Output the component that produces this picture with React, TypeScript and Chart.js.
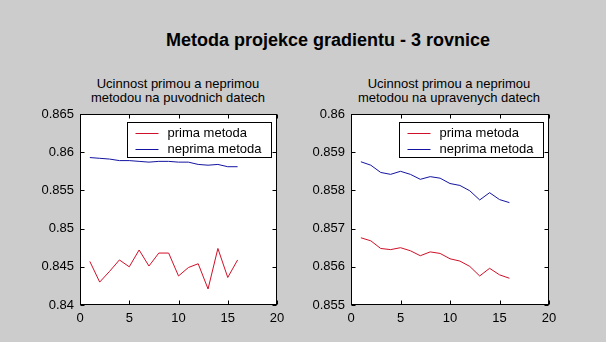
import React, { useEffect, useRef } from "react";
import { Chart, registerables } from "chart.js";

Chart.register(...registerables);

// ---- data ----
const xValues = [1, 2, 3, 4, 5, 6, 7, 8, 9, 10, 11, 12, 13, 14, 15, 16];
const seriesLabels = ["prima metoda", "neprima metoda"];

const leftPrima = [0.8457, 0.843, 0.8444, 0.8459, 0.845, 0.8472, 0.8451, 0.8468, 0.8468, 0.8438, 0.8449, 0.8454, 0.8421, 0.8474, 0.8436, 0.8459];
const leftNeprima = [0.8593, 0.8592, 0.8591, 0.8589, 0.8589, 0.8588, 0.8587, 0.8588, 0.8588, 0.8587, 0.8587, 0.8584, 0.8583, 0.8584, 0.8581, 0.8581];

const rightPrima = [0.85676, 0.85668, 0.85648, 0.85645, 0.8565, 0.85642, 0.85629, 0.85639, 0.85635, 0.85621, 0.85615, 0.85601, 0.85576, 0.85596, 0.85579, 0.8557];
const rightNeprima = [0.85875, 0.85866, 0.85847, 0.85842, 0.8585, 0.85842, 0.85829, 0.85836, 0.85832, 0.85818, 0.85813, 0.85799, 0.85775, 0.85794, 0.85776, 0.85768];

const xTickValues = [0, 5, 10, 15, 20];
const leftYTickValues = [0.84, 0.845, 0.85, 0.855, 0.86, 0.865];
const leftYTickLabels = ["0.84", "0.845", "0.85", "0.855", "0.86", "0.865"];
const rightYTickValues = [0.855, 0.856, 0.857, 0.858, 0.859, 0.86];
const rightYTickLabels = ["0.855", "0.856", "0.857", "0.858", "0.859", "0.86"];

const mainTitle = "Metoda projekce gradientu - 3 rovnice";
const leftTitle = ["Ucinnost primou a neprimou", "metodou na puvodnich datech"];
const rightTitle = ["Ucinnost primou a neprimou", "metodou na upravenych datech"];

const FONT = '"Liberation Sans", Arial, Helvetica, sans-serif';
const RED = "#d01028";
const BLUE = "#1414a0";
const seriesColors = [RED, BLUE];

const framePlugin = {
  id: "matlabFrame",
  beforeDraw(chart: any) {
    const { ctx, chartArea } = chart;
    const { left, top, right, bottom } = chartArea;
    ctx.save();
    ctx.fillStyle = "#ffffff";
    ctx.fillRect(left, top, right - left, bottom - top);
    ctx.restore();
  },
  afterDatasetsDraw(chart: any) {
    const { ctx, chartArea } = chart;
    const L = Math.round(chartArea.left) + 0.5;
    const T = Math.round(chartArea.top) + 0.5;
    const R = Math.round(chartArea.right) - 0.5;
    const B = Math.round(chartArea.bottom) - 0.5;
    ctx.save();
    ctx.strokeStyle = "#000";
    ctx.lineWidth = 1;
    ctx.strokeRect(L, T, R - L, B - T);
    const tl = 4;
    ctx.beginPath();
    chart.scales.y.ticks.forEach((t: any) => {
      const y = Math.round(chart.scales.y.getPixelForValue(t.value)) + 0.5;
      ctx.moveTo(L, y);
      ctx.lineTo(L + tl, y);
      ctx.moveTo(R, y);
      ctx.lineTo(R - tl, y);
    });
    chart.scales.x.ticks.forEach((t: any) => {
      const x = Math.round(chart.scales.x.getPixelForValue(t.value)) + 0.5;
      ctx.moveTo(x, B);
      ctx.lineTo(x, B - tl);
      ctx.moveTo(x, T);
      ctx.lineTo(x, T + tl);
    });
    ctx.stroke();

    // legend
    ctx.font = "13px " + FONT;
    const labels = chart.data.datasets.map((d: any) => d.label);
    const maxW = Math.max(...labels.map((l: string) => ctx.measureText(l).width));
    const w = Math.round(40 + maxW + 10);
    const h = 35;
    const bx = Math.round(R - 6 - w) + 0.5;
    const by = Math.round(T + 7) + 0.5;
    ctx.fillStyle = "#fff";
    ctx.fillRect(bx, by, w, h);
    ctx.strokeStyle = "#000";
    ctx.strokeRect(bx, by, w, h);
    labels.forEach((label: string, i: number) => {
      const yy = Math.round(by + 10.5 + i * 16) + 0.5;
      ctx.beginPath();
      ctx.strokeStyle = seriesColors[i];
      ctx.lineWidth = 1;
      ctx.moveTo(bx + 8, yy);
      ctx.lineTo(bx + 31, yy);
      ctx.stroke();
      ctx.fillStyle = "#000";
      ctx.textBaseline = "middle";
      ctx.textAlign = "left";
      ctx.fillText(label, bx + 40, yy);
    });
    ctx.restore();
  },
};

function makeConfig(
  prima: number[],
  neprima: number[],
  yTicks: number[],
  yLabels: string[],
  yAxisWidth: number,
  padRight: number
): any {
  return {
    type: "line",
    data: {
      datasets: [
        {
          label: seriesLabels[0],
          data: xValues.map((x, i) => ({ x, y: prima[i] })),
          borderColor: seriesColors[0],
          borderWidth: 1,
          pointRadius: 0,
          tension: 0,
        },
        {
          label: seriesLabels[1],
          data: xValues.map((x, i) => ({ x, y: neprima[i] })),
          borderColor: seriesColors[1],
          borderWidth: 1,
          pointRadius: 0,
          tension: 0,
        },
      ],
    },
    options: {
      animation: false,
      responsive: false,
      maintainAspectRatio: false,
      layout: { padding: { top: 14, right: padRight, bottom: 0, left: 0 } },
      plugins: { legend: { display: false }, tooltip: { enabled: false }, title: { display: false } },
      scales: {
        x: {
          type: "linear",
          min: xTickValues[0],
          max: xTickValues[xTickValues.length - 1],
          grid: { display: false, drawTicks: false },
          border: { display: false },
          afterBuildTicks: (s: any) => {
            s.ticks = xTickValues.map((v) => ({ value: v }));
          },
          afterFit: (s: any) => {
            s.height = 37;
          },
          ticks: {
            padding: 6,
            color: "#000",
            font: { family: FONT, size: 13 },
            maxRotation: 0,
            callback: (v: number) => String(v),
          },
        },
        y: {
          type: "linear",
          min: yTicks[0],
          max: yTicks[yTicks.length - 1],
          grid: { display: false, drawTicks: false },
          border: { display: false },
          afterBuildTicks: (s: any) => {
            s.ticks = yTicks.map((v) => ({ value: v }));
          },
          afterFit: (s: any) => {
            s.width = yAxisWidth;
          },
          ticks: {
            padding: 6,
            color: "#000",
            font: { family: FONT, size: 13 },
            callback: (_v: number, i: number) => yLabels[i],
          },
        },
      },
    },
    plugins: [framePlugin],
  };
}

function ChartCanvas(props: { config: any; left: number; width: number }) {
  const ref = useRef<HTMLCanvasElement | null>(null);
  useEffect(() => {
    if (!ref.current) return;
    const c = new Chart(ref.current, props.config);
    return () => c.destroy();
  }, []);
  return (
    <canvas
      ref={ref}
      width={props.width}
      height={242}
      style={{ position: "absolute", left: props.left, top: 100, width: props.width, height: 242 }}
    />
  );
}

const subStyle = (center: number): React.CSSProperties => ({
  position: "absolute",
  left: center - 120,
  width: 240,
  top: 76.5,
  textAlign: "center",
  fontFamily: FONT,
  fontSize: 13,
  lineHeight: "14.5px",
  color: "#000",
  whiteSpace: "nowrap",
});

export default function App() {
  const leftCfg = makeConfig(leftPrima, leftNeprima, leftYTickValues, leftYTickLabels, 80, 23);
  const rightCfg = makeConfig(rightPrima, rightNeprima, rightYTickValues, rightYTickLabels, 51, 57);
  return (
    <div
      style={{
        position: "absolute",
        left: 0,
        top: 0,
        width: 606,
        height: 342,
        background: "#cccccc",
        overflow: "hidden",
      }}
    >
      <div
        style={{
          position: "absolute",
          left: 0,
          width: 656,
          top: 31,
          textAlign: "center",
          fontFamily: FONT,
          fontWeight: "bold",
          fontSize: 18,
          lineHeight: "18px",
          color: "#000",
          whiteSpace: "nowrap",
        }}
      >
        {mainTitle}
      </div>
      <div style={subStyle(178)}>
        {leftTitle[0]}
        <br />
        {leftTitle[1]}
      </div>
      <div style={subStyle(449)}>
        {rightTitle[0]}
        <br />
        {rightTitle[1]}
      </div>
      <ChartCanvas config={leftCfg} left={0} width={300} />
      <ChartCanvas config={rightCfg} left={300} width={306} />
    </div>
  );
}
